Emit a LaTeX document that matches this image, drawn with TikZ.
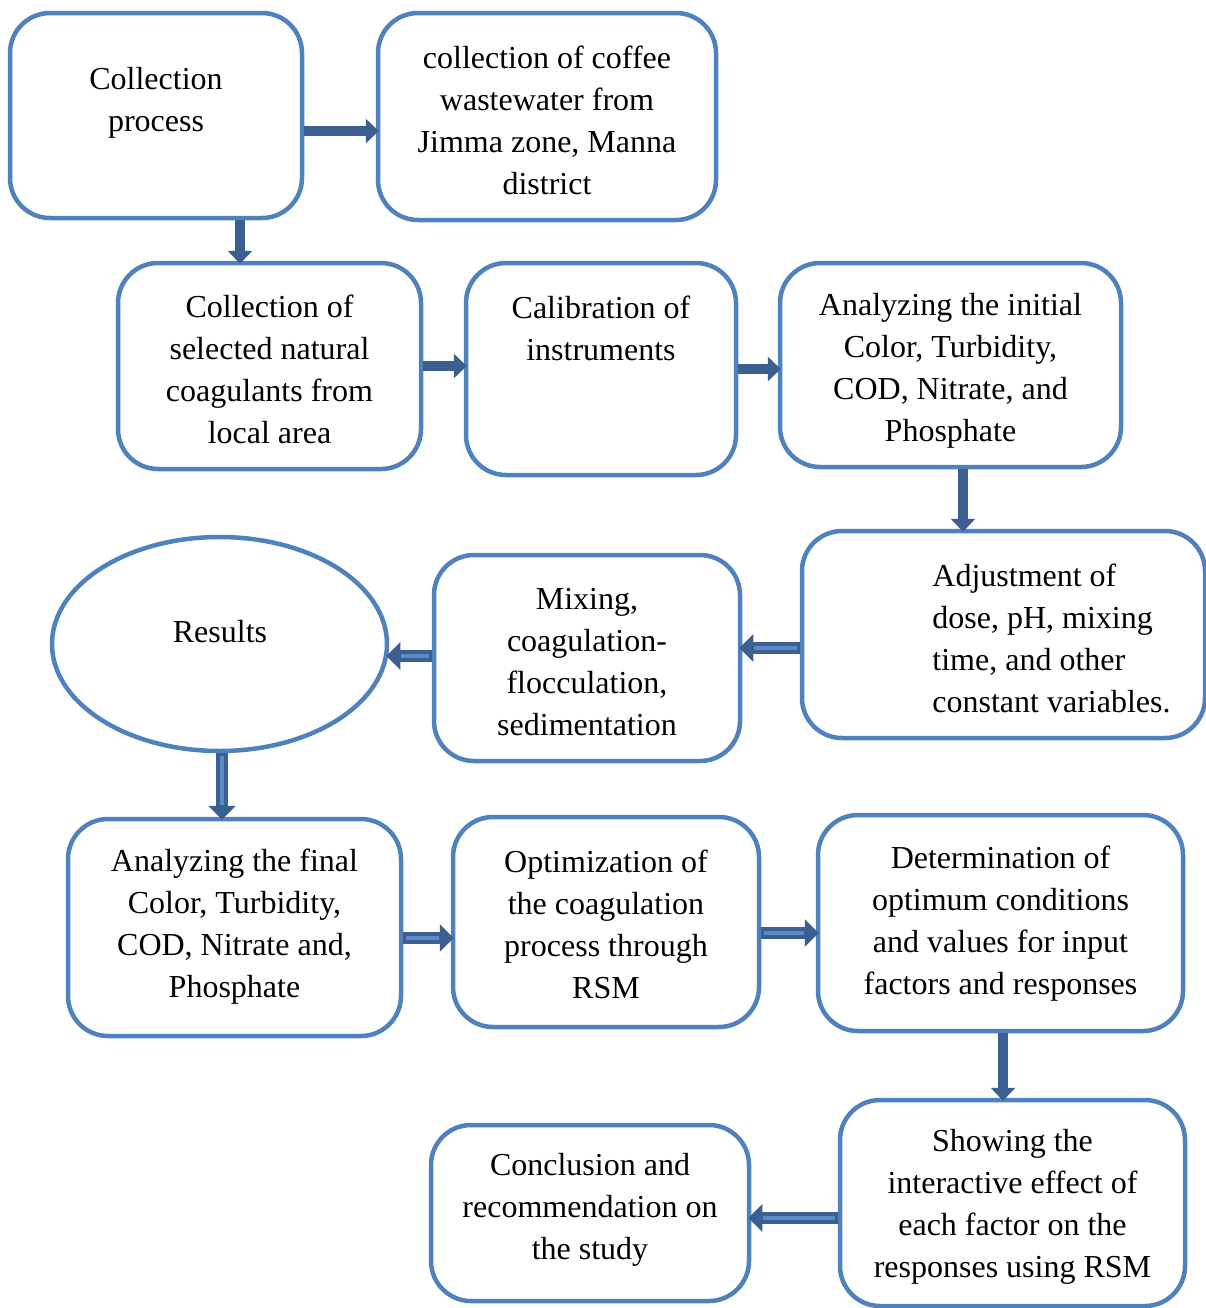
\documentclass[tikz,border=0pt]{standalone}
\usepackage{fontspec}
\setmainfont{Liberation Serif}
\usetikzlibrary{arrows.meta,shapes.geometric}
\definecolor{boxblue}{RGB}{79,129,189}
\definecolor{arrdark}{RGB}{59,95,145}
\definecolor{arrlight}{RGB}{91,138,201}

\begin{document}
\begin{tikzpicture}[x=0.5pt, y=-0.5pt,
        box/.style={draw=boxblue, line width=2.25pt, rounded corners=20pt, fill=white, inner sep=0pt},
        oval/.style={draw=boxblue, line width=2.25pt, ellipse, fill=white, inner sep=0pt},
        txt/.style={font=\fontsize{16}{21}\selectfont, align=center, inner sep=0pt, yshift=-1.25pt},
        solidarr/.style={draw=arrdark, line width=5pt, shorten >=-1.5pt, -{Triangle[length=6.5pt, width=12pt]}},
        hollowarr/.style={draw=arrdark, line width=6pt, shorten >=-1.5pt, -{Triangle[length=7pt, width=13.5pt]},
                postaction={draw=arrlight, line width=2pt, -, shorten >=6pt, shorten <=1.5pt}}]
        \useasboundingbox (0, 0) rectangle (1206, 1308);

        % boxes
        \node[box, minimum width=146pt, minimum height=102.5pt] (cp) at (156, 115.5) {};
        \node[box, minimum width=169pt, minimum height=103.5pt] (coffee) at (547, 116.5) {};
        \node[box, minimum width=151.5pt, minimum height=103pt] (sel) at (269.5, 366) {};
        \node[box, minimum width=135pt, minimum height=106pt] (cal) at (601, 369) {};
        \node[box, minimum width=170.5pt, minimum height=102pt] (init) at (950.5, 365) {};
        \node[box, minimum width=201.5pt, minimum height=103.5pt] (adj) at (1003.5, 634.5) {};
        \node[box, minimum width=153pt, minimum height=103pt] (mix) at (587, 658) {};
        \node[oval, minimum width=167.5pt, minimum height=107pt] (res) at (219.5, 644) {};
        \node[box, minimum width=166.5pt, minimum height=108.5pt] (fin) at (234.5, 927.5) {};
        \node[box, minimum width=153pt, minimum height=105pt] (opt) at (606, 922) {};
        \node[box, minimum width=182.5pt, minimum height=108pt] (det) at (1000.5, 923) {};
        \node[box, minimum width=172.5pt, minimum height=103pt] (show) at (1012.5, 1203) {};
        \node[box, minimum width=159pt, minimum height=88pt] (conc) at (590, 1213) {};

        % texts
        \node[txt] (cptext) at (156, 100) {Collection\\process};
        \node[txt] (coffeetext) at (547, 118) {collection of coffee\\wastewater from\\Jimma zone, Manna\\district};
        \node[txt] (seltext) at (269.5, 367) {Collection of\\selected natural\\coagulants from\\local area};
        \node[txt] (caltext) at (601, 326) {Calibration of\\instruments};
        \node[txt] (inittext) at (950.5, 368.5) {Analyzing the initial\\Color, Turbidity,\\COD, Nitrate, and\\Phosphate};
        \node[txt, align=left, anchor=west] (adjtext) at (932, 636) {Adjustment of\\dose, pH, mixing\\time, and other\\constant variables.};
        \node[txt] (mixtext) at (587, 659.5) {Mixing,\\coagulation-\\flocculation,\\sedimentation};
        \node[txt] (restext) at (220, 629) {Results};
        \node[txt] (fintext) at (234.5, 924.5) {Analyzing the final\\Color, Turbidity,\\COD, Nitrate and,\\Phosphate};
        \node[txt] (opttext) at (606, 921.5) {Optimization of\\the coagulation\\process through\\RSM};
        \node[txt] (dettext) at (1000.5, 921) {Determination of\\optimum conditions\\and values for input\\factors and responses};
        \node[txt] (showtext) at (1012.5, 1204.5) {Showing the\\interactive effect of\\each factor on the\\responses using RSM};
        \node[txt] (conctext) at (590, 1207.5) {Conclusion and\\recommendation on\\the study};

        % arrows
        \draw[solidarr] ([yshift=-7.75pt]cp.east) -- ([yshift=-7.75pt]cp.east -| coffee.west);
        \draw[solidarr] ([xshift=42pt]cp.south) -- ([xshift=42pt]cp.south |- sel.north);
        \draw[solidarr] (sel.east) -- (sel.east -| cal.west);
        \draw[solidarr] (cal.east) -- (cal.east -| init.west);
        \draw[solidarr] ([xshift=6.25pt]init.south) -- ([xshift=6.25pt]init.south |- adj.north);
        \draw[hollowarr] ([yshift=-6.75pt]adj.west) -- ([yshift=-6.75pt]adj.west -| mix.east);
        \draw[hollowarr] ([yshift=1pt]mix.west) -- ([yshift=1pt]mix.west -| res.east);
        \draw[hollowarr] ([xshift=1.25pt]res.south) -- ([xshift=1.25pt]res.south |- fin.north);
        \draw[hollowarr] ([yshift=-5.25pt]fin.east) -- ([yshift=-5.25pt]fin.east -| opt.west);
        \draw[hollowarr] ([yshift=-5.5pt]opt.east) -- ([yshift=-5.5pt]opt.east -| det.west);
        \draw[solidarr] ([xshift=1.25pt]det.south) -- ([xshift=1.25pt]det.south |- show.north);
        \draw[hollowarr] ([yshift=-7.5pt]show.west) -- ([yshift=-7.5pt]show.west -| conc.east);
\end{tikzpicture}
\end{document}
